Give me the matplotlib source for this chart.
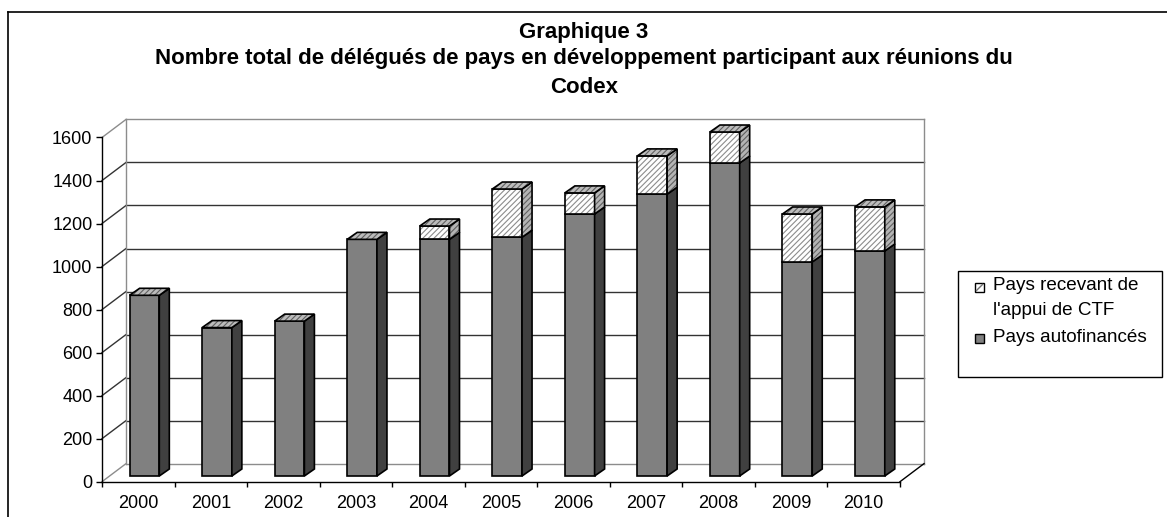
import matplotlib
matplotlib.use("Agg")
import matplotlib.pyplot as plt
from matplotlib.patches import Polygon, Rectangle
from matplotlib.lines import Line2D

# -------------------------
# DONNEES
# -------------------------
annees = ["2000", "2001", "2002", "2003", "2004", "2005",
          "2006", "2007", "2008", "2009", "2010"]
autofinances = [840, 690, 720, 1100, 1100, 1110, 1218, 1310, 1455, 995, 1046]
appui_ctf = [0, 0, 0, 0, 62, 224, 98, 178, 144, 223, 205]
yticks = [0, 200, 400, 600, 800, 1000, 1200, 1400, 1600]

titre = ["Graphique 3",
         "Nombre total de délégués de pays en développement participant aux réunions du",
         "Codex"]
lab_ctf = ["Pays recevant de", "l'appui de CTF"]
lab_auto = "Pays autofinancés"

plt.rcParams['font.family'] = ['Liberation Sans', 'DejaVu Sans']
plt.rcParams['hatch.linewidth'] = 0.8

W, H = 1167, 517


def fx(px):
    return px / W


def fy(py):
    return 1 - py / H


fig = plt.figure(figsize=(W / 100, H / 100), dpi=100)
ax = fig.add_axes([fx(102), fy(481.7), (900 - 102) / W, (481.7 - 137.5) / H])
ax.set_xlim(-0.5, 10.5)
ax.set_ylim(0, 1600)

# profondeur (en unites de donnees)
wdx, wdy = 0.331, 84      # murs
bdx, bdy = 0.138, 32.5    # barres
b_off, b_w = 0.38, 0.41   # face avant des barres
b_base = 26.5

# -------------------------
# MURS ET GRILLE
# -------------------------
x0, x1 = -0.5, 10.5
for v in yticks:
    if v in (0, 1600):
        c = '#8c8c8c'
    else:
        c = '#333333'
    ax.plot([x0 + wdx, x1 + wdx], [v + wdy, v + wdy], color=c, lw=1, clip_on=False, zorder=1)
    ax.plot([x0, x0 + wdx], [v, v + wdy], color=c, lw=1, clip_on=False, zorder=1)
ax.plot([x0 + wdx, x0 + wdx], [wdy, 1600 + wdy], color='#8c8c8c', lw=1, clip_on=False, zorder=1)
ax.plot([x1 + wdx, x1 + wdx], [wdy, 1600 + wdy], color='#8c8c8c', lw=1, clip_on=False, zorder=1)
ax.plot([x1, x1 + wdx], [0, wdy], color='black', lw=1, clip_on=False, zorder=1)


# -------------------------
# BARRES 3D
# -------------------------
def face_avant(xl, yb, yt, **kw):
    return Polygon([(xl, yb), (xl + b_w, yb), (xl + b_w, yt), (xl, yt)], **kw)


def face_cote(xl, yb, yt, **kw):
    xr = xl + b_w
    return Polygon([(xr, yb), (xr + bdx, yb + bdy), (xr + bdx, yt + bdy), (xr, yt)], **kw)


def face_dessus(xl, yt, **kw):
    xr = xl + b_w
    return Polygon([(xl, yt), (xr, yt), (xr + bdx, yt + bdy), (xl + bdx, yt + bdy)], **kw)


hachure = '//////'
for i in range(len(annees)):
    xl = i - 0.5 + b_off
    yb = b_base
    ym = yb + autofinances[i]
    yt = ym + appui_ctf[i]
    z = 3 + i

    ax.add_patch(face_avant(xl, yb, ym, fc='#808080', ec='black', lw=1.2, zorder=z, clip_on=False))
    ax.add_patch(face_cote(xl, yb, ym, fc='#404040', ec='black', lw=1.2, zorder=z, clip_on=False))

    if appui_ctf[i] > 0:
        ax.add_patch(face_avant(xl, ym, yt, fc='white', ec='#8c8c8c', lw=0,
                                hatch=hachure, zorder=z, clip_on=False))
        ax.add_patch(face_avant(xl, ym, yt, fill=False, ec='black', lw=1.2, zorder=z, clip_on=False))
        ax.add_patch(face_cote(xl, ym, yt, fc='#b4b4b4', ec='#606060', lw=0,
                               hatch=hachure, zorder=z, clip_on=False))
        ax.add_patch(face_cote(xl, ym, yt, fill=False, ec='black', lw=1.2, zorder=z, clip_on=False))

    ax.add_patch(face_dessus(xl, yt, fc='#bcbcbc', ec='#606060', lw=0,
                             hatch=hachure, zorder=z, clip_on=False))
    ax.add_patch(face_dessus(xl, yt, fill=False, ec='black', lw=1.2, zorder=z, clip_on=False))

# -------------------------
# AXES
# -------------------------
for s in ['top', 'right']:
    ax.spines[s].set_visible(False)
for s in ['left', 'bottom']:
    ax.spines[s].set_color('black')
    ax.spines[s].set_linewidth(1)
    ax.spines[s].set_zorder(20)
ax.set_facecolor('none')

ax.set_yticks(yticks)
ax.set_yticklabels([str(v) for v in yticks])
ax.tick_params(axis='y', direction='out', length=4.6, width=1, pad=2.3, labelsize=13)

ax.set_xticks(range(len(annees)))
ax.set_xticklabels(annees)
ax.set_xticks([k - 0.5 for k in range(len(annees) + 1)], minor=True)
ax.tick_params(axis='x', which='major', length=0, pad=9.4, labelsize=13)
ax.tick_params(axis='x', which='minor', direction='out', length=3.6, width=1)

# -------------------------
# TITRE
# -------------------------
for ligne, base in zip(titre, [38, 64, 93]):
    fig.text(fx(584), fy(base), ligne, ha='center', va='baseline', fontsize=16,
             fontweight='bold')

# -------------------------
# LEGENDE
# -------------------------
fig.add_artist(Rectangle((fx(958), fy(377)), fx(1162) - fx(958), fy(271) - fy(377),
                         fill=False, ec='black', lw=1, transform=fig.transFigure))
fig.add_artist(Rectangle((fx(975), fy(292)), fx(9), fy(283) - fy(292), fc='white',
                         ec='black', lw=1, transform=fig.transFigure))
fig.add_artist(Line2D([fx(976.5), fx(982.5)], [fy(290.5), fy(284.5)], color='#707070',
                      lw=1, transform=fig.transFigure))
fig.add_artist(Rectangle((fx(975), fy(343)), fx(9), fy(334) - fy(343), fc='#808080',
                         ec='black', lw=1, transform=fig.transFigure))
fig.text(fx(993), fy(290), lab_ctf[0], ha='left', va='baseline', fontsize=13.6)
fig.text(fx(993), fy(315), lab_ctf[1], ha='left', va='baseline', fontsize=13.6)
fig.text(fx(993), fy(342), lab_auto, ha='left', va='baseline', fontsize=13.6)

# cadre exterieur
fig.add_artist(Line2D([fx(7.5), 1], [fy(12), fy(12)], color='black', lw=1.2, transform=fig.transFigure))
fig.add_artist(Line2D([fx(7.5), fx(7.5)], [0, fy(12)], color='black', lw=1.2, transform=fig.transFigure))

fig.savefig("out.png", dpi=100)
